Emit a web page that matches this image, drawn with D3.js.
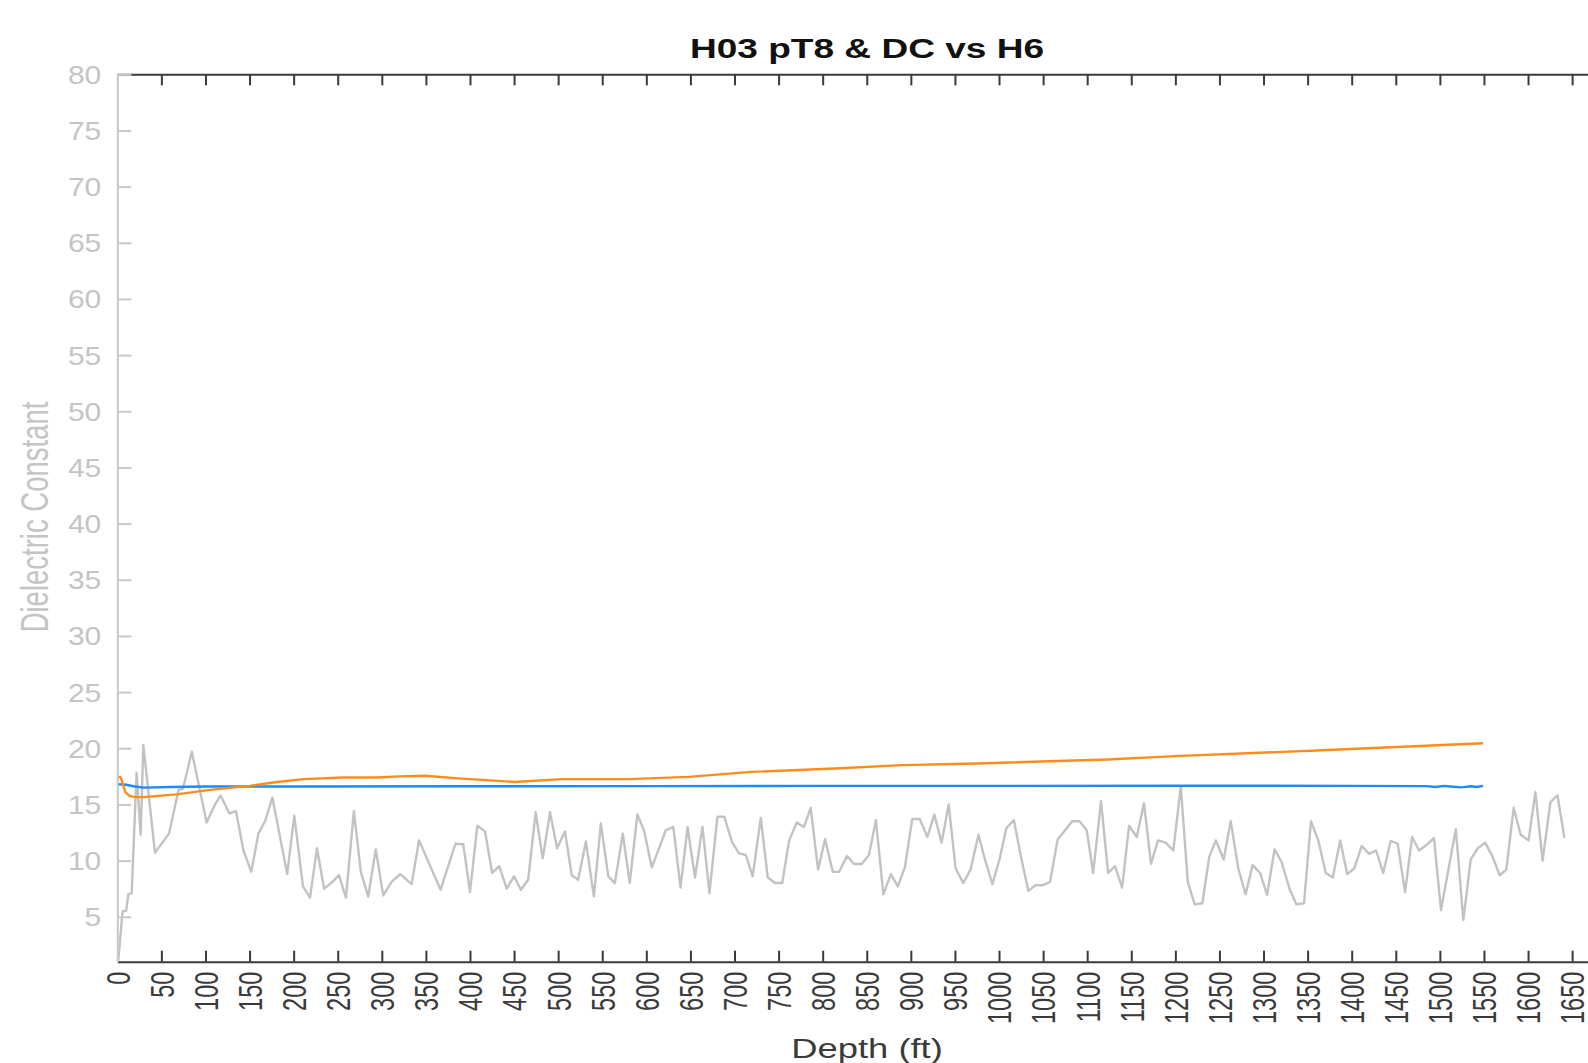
<!DOCTYPE html>
<html lang="en">
<head>
    <meta charset="UTF-8">
    <title>H03 pT8 & DC vs H6</title>
    <script src="https://cdn.jsdelivr.net/npm/d3@7"></script>
    <style>
        body { margin: 0; background: #fff; }
        text { font-family: "Liberation Sans", Arial, Helvetica, sans-serif; }
    </style>
</head>
<body>

<script>
  // depth (ft) / dielectric constant
  var grayDepth = [1, 6, 10, 12.5, 16.3, 21.9, 26.5, 29.5, 42.7, 58.6, 69.5, 74.5, 84.5, 101.3, 110.8, 117.2, 127.2, 134.6,
    143.1, 152, 160, 167.5, 175.9, 192.7, 200.7, 210.6, 218.6, 226.5, 234.5, 244, 251.4, 259.3, 268.3, 276.2, 284.6,
    293.1, 301.6, 311, 320.9, 333.8, 342.2, 366.6, 383.5, 392.4, 400, 408.3, 417, 425.2, 433.2, 441.6, 449.9, 457.8,
    466, 474.5, 482.5, 490.8, 498.8, 507.7, 515.4, 522.6, 531.5, 540.5, 548.4, 556.9, 564.3, 573.3, 581.2, 589.8,
    597.7, 606.1, 614, 622, 630.6, 638.8, 646.8, 655.2, 663.7, 671.6, 680.6, 688.5, 696.9, 705.1, 712.8, 720.6,
    729.8, 737.7, 746, 754.1, 762, 770.6, 778.9, 786.4, 794.8, 802.8, 811.4, 818.7, 827.6, 835.6, 844.3, 852.5,
    860.4, 868.8, 877.3, 885.2, 893.2, 901.6, 910.1, 918.7, 926.6, 934.9, 942.9, 950.8, 959.5, 967.7, 976.7, 984.1,
    992.5, 1000.5, 1008.4, 1016.9, 1024.9, 1033.3, 1041.2, 1049.2, 1057.8, 1066.6, 1075, 1083, 1091.3, 1099.5,
    1106.8, 1115.7, 1123.7, 1131.6, 1139.6, 1147.5, 1156.2, 1164.4, 1172.4, 1180.3, 1189.1, 1197.7, 1206.2, 1214.1,
    1222, 1230.6, 1238.5, 1245.9, 1254.8, 1262.8, 1271.4, 1279.7, 1287.6, 1296.1, 1304, 1312.5, 1320.4, 1329.4,
    1337.3, 1345.9, 1353.8, 1362.1, 1370.6, 1378.5, 1387, 1394.9, 1402.9, 1411.4, 1419.8, 1427.7, 1435.7, 1444.2,
    1452.2, 1460.5, 1468.5, 1476.4, 1485, 1493.3, 1501.3, 1518.1, 1526.6, 1535, 1543, 1551.4, 1559.8, 1567.8,
    1575.4, 1583.7, 1591.6, 1600.6, 1608.3, 1616.5, 1625.4, 1633.4, 1641.3];
  var grayValue = [1.0, 5.5, 5.5, 7.0, 7.1, 17.8, 12.3, 20.3, 10.7, 12.4, 16.3, 16.4, 19.7, 13.4, 15.0, 15.8, 14.2, 14.4,
    10.9, 9.0, 12.4, 13.5, 15.6, 8.8, 14.0, 7.7, 6.7, 11.1, 7.5, 8.1, 8.7, 6.7, 14.4, 9.0, 6.8,
    11.0, 6.9, 8.1, 8.8, 7.9, 11.8, 7.4, 11.5, 11.45, 7.2, 13.1, 12.6, 8.9, 9.5, 7.5, 8.6, 7.4,
    8.3, 14.3, 10.2, 14.3, 11.1, 12.6, 8.7, 8.3, 11.7, 6.8, 13.3, 8.6, 8.0, 12.4, 8.0, 14.1,
    12.6, 9.4, 11.0, 12.7, 13.0, 7.6, 13.0, 8.5, 13.0, 7.1, 13.9, 13.9, 11.7, 10.65, 10.5, 8.6,
    13.8, 8.5, 8.0, 8.0, 11.8, 13.4, 13.0, 14.7, 9.2, 11.9, 9.0, 9.0, 10.4, 9.7, 9.7, 10.5,
    13.6, 7.0, 8.8, 7.7, 9.4, 13.7, 13.7, 12.1, 14.1, 11.6, 15.0, 9.3, 8.0, 9.2, 12.3, 10.1,
    7.9, 10.1, 12.9, 13.6, 10.35, 7.3, 7.8, 7.8, 8.1, 11.9, 12.7, 13.5, 13.5, 12.7,
    8.9, 15.3, 8.9, 9.5, 7.6, 13.1, 12.1, 15.1, 9.7, 11.8, 11.6, 10.9, 16.6, 8.1,
    6.1, 6.2, 10.35, 11.8, 10.1, 13.5, 9.3, 7.0, 9.6, 8.9, 6.95, 11.0, 9.9, 7.5,
    6.1, 6.2, 13.5, 11.8, 8.9, 8.5, 11.8, 8.8, 9.3, 11.3, 10.6, 10.9, 8.9, 11.75,
    11.5, 7.2, 12.1, 10.9, 11.4, 12.0, 5.6, 12.8, 4.7, 10.1, 11.1, 11.6, 10.35, 8.7,
    9.2, 14.7, 12.3, 11.8, 16.1, 10.0, 15.2, 15.8, 12.0];

  var blueDepth = [0, 10, 20, 30, 60, 100, 200, 400, 600, 800, 1000, 1200, 1400, 1485, 1495, 1505, 1515, 1525, 1535, 1542, 1549];
  var blueValue = [16.8, 16.75, 16.6, 16.5, 16.55, 16.6, 16.6, 16.62, 16.63, 16.65, 16.65, 16.67, 16.65, 16.63, 16.55, 16.65, 16.58, 16.52, 16.62, 16.55, 16.65];

  var orangeDepth = [0, 4, 9, 14, 20, 30, 67, 105, 150, 181, 211, 256, 294, 320, 349, 390, 451, 504, 580, 648, 719, 814, 890, 976, 1124, 1199, 1360, 1549];
  var orangeValue = [17.5, 17.4, 16.1, 15.75, 15.65, 15.65, 15.9, 16.3, 16.65, 17.0, 17.25, 17.4, 17.4, 17.5, 17.55, 17.3, 17.0, 17.25, 17.25, 17.45, 17.9, 18.2, 18.5, 18.65, 19.0, 19.3, 19.8, 20.45];

  var xTicks = d3.range(0, 1651, 50);
  var yTicks = d3.range(5, 81, 5);

  var chartTitle = "H03 pT8 & DC vs H6";
  var xTitle = "Depth (ft)";
  var yTitle = "Dielectric Constant";

  drewChart();

  function drewChart() {
    var width = 1588;
    var height = 1063;
    var left = 117.3, top = 74.3, bottom = 961.7;

    var svg = d3.select("body").append("svg")
      .attr("width", width)
      .attr("height", height);

    // the axes box runs off the right side of the picture
    var xScale = d3.scaleLinear().domain([0, 1668]).range([left, width]);
    var yScale = d3.scaleLinear().domain([1, 80]).range([bottom, top]);

    function zip(xs, ys) {
      return xs.map(function (d, i) { return {x: d, y: ys[i]}; });
    }

    var line = d3.line()
      .x(function (d) { return xScale(d.x); })
      .y(function (d) { return yScale(d.y); });

    // top edge
    var topAxis = d3.axisTop(xScale)
      .tickValues(xTicks.filter(function (d) { return d > 0; }))
      .tickSize(-11).tickSizeOuter(0).tickFormat("");
    var gTop = svg.append("g").attr("transform", "translate(0," + top + ")").call(topAxis);
    gTop.select(".domain").attr("stroke", "#3a3a3a").attr("stroke-width", 2);
    gTop.selectAll(".tick line").attr("stroke", "#3a3a3a").attr("stroke-width", 2);

    // data
    svg.append("path")
      .attr("d", line(zip(grayDepth, grayValue)))
      .attr("fill", "none")
      .attr("stroke", "#c2c2c2")
      .attr("stroke-width", 2.4)
      .attr("stroke-linejoin", "round");

    svg.append("path")
      .attr("d", line(zip(blueDepth, blueValue)))
      .attr("fill", "none")
      .attr("stroke", "#1a8cff")
      .attr("stroke-width", 2.4);

    svg.append("path")
      .attr("d", line(zip(orangeDepth, orangeValue)))
      .attr("fill", "none")
      .attr("stroke", "#ff8c1a")
      .attr("stroke-width", 2.4);

    // bottom axis
    var xAxis = d3.axisBottom(xScale)
      .tickValues(xTicks)
      .tickSize(-11).tickSizeOuter(0)
      .tickFormat(d3.format("d"));
    var gx = svg.append("g").attr("transform", "translate(0," + bottom + ")").call(xAxis);
    gx.select(".domain").attr("stroke", "#3a3a3a").attr("stroke-width", 2);
    gx.selectAll(".tick line")
      .attr("stroke", "#3a3a3a").attr("stroke-width", 2)
      .attr("display", function (d) { return d === 0 ? "none" : null; });
    gx.selectAll(".tick text")
      .attr("x", 0).attr("y", 0).attr("dy", "0.36em")
      .attr("text-anchor", "end")
      .attr("transform", "translate(0,10) scale(1.4,1) rotate(-90)")
      .attr("fill", "#3a3a3a")
      .style("font-size", "23.5px");

    // left axis
    var yAxis = d3.axisLeft(yScale)
      .tickValues(yTicks)
      .tickSize(-14).tickSizeOuter(0);
    var gy = svg.append("g").attr("transform", "translate(" + left + ",0)").call(yAxis);
    gy.select(".domain").attr("stroke", "#c8c8c8").attr("stroke-width", 2);
    gy.selectAll(".tick line").attr("stroke", "#c8c8c8").attr("stroke-width", 2);
    gy.selectAll(".tick text")
      .attr("x", 0).attr("dy", "0.36em")
      .attr("text-anchor", "end")
      .attr("transform", "translate(-16,0) scale(1.2,1)")
      .attr("fill", "#c4c4c4")
      .style("font-size", "25px");

    // titles
    svg.append("text")
      .attr("transform", "translate(867,57.5) scale(1.3,1)")
      .attr("text-anchor", "middle")
      .attr("font-weight", "bold")
      .attr("fill", "#111")
      .style("font-size", "28.5px")
      .text(chartTitle);

    svg.append("text")
      .attr("transform", "translate(867,1058) scale(1.3,1)")
      .attr("text-anchor", "middle")
      .attr("fill", "#3a3a3a")
      .style("font-size", "28px")
      .text(xTitle);

    svg.append("text")
      .attr("transform", "translate(48,517) scale(1.4,1) rotate(-90)")
      .attr("text-anchor", "middle")
      .attr("fill", "#c4c4c4")
      .style("font-size", "27.5px")
      .text(yTitle);
  }
</script>
</body>
</html>
